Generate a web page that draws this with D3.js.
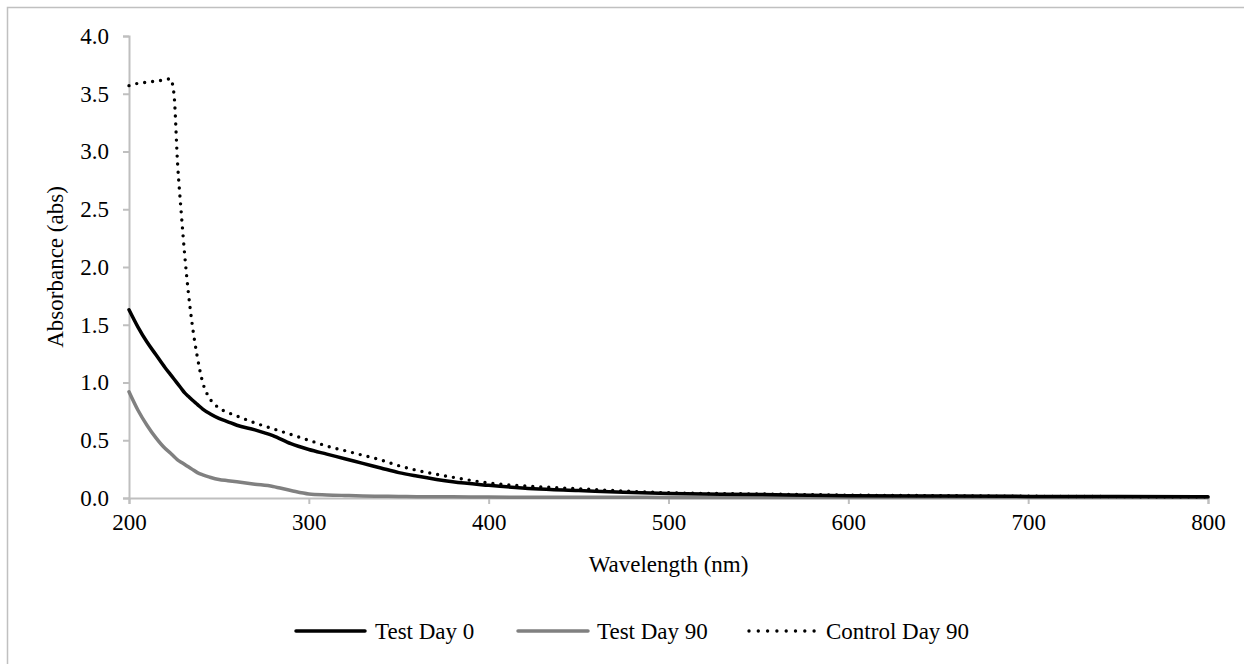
<!DOCTYPE html>
<html>
<head>
<meta charset="utf-8">
<script src="https://cdn.jsdelivr.net/npm/d3@7"></script>
<style>
  html, body { margin: 0; padding: 0; background: #fff; }
  svg { display: block; }
</style>
</head>
<body>
<svg id="chart" width="1244" height="664" font-family="Liberation Serif" font-size="23"></svg>
<script>
// ---- Data ----
const wavelengths = [200, 205, 210, 215, 220, 223, 225, 227, 229, 231, 233, 235, 238, 241, 245, 250, 255, 260, 270, 280, 290, 300, 310, 320, 330, 340, 350, 360, 380, 400, 425, 450, 475, 500, 550, 600, 650, 700, 750, 800];
const testDay0 = [1.63, 1.48, 1.35, 1.24, 1.13, 1.07, 1.03, 0.99, 0.95, 0.91, 0.88, 0.85, 0.81, 0.77, 0.73, 0.69, 0.66, 0.63, 0.59, 0.54, 0.47, 0.42, 0.38, 0.34, 0.30, 0.26, 0.22, 0.19, 0.14, 0.11, 0.08, 0.065, 0.05, 0.04, 0.03, 0.02, 0.017, 0.014, 0.012, 0.01];
const testDay90 = [0.92, 0.76, 0.63, 0.52, 0.43, 0.39, 0.36, 0.33, 0.31, 0.29, 0.27, 0.25, 0.22, 0.20, 0.18, 0.16, 0.15, 0.14, 0.12, 0.10, 0.065, 0.035, 0.027, 0.022, 0.018, 0.015, 0.013, 0.011, 0.010, 0.008, 0.007, 0.006, 0.006, 0.005, 0.005, 0.005, 0.005, 0.004, 0.004, 0.004];
const controlDay90 = [3.57, 3.59, 3.60, 3.61, 3.62, 3.63, 3.50, 2.90, 2.48, 2.10, 1.78, 1.52, 1.22, 1.00, 0.86, 0.78, 0.74, 0.71, 0.65, 0.60, 0.55, 0.50, 0.45, 0.41, 0.37, 0.33, 0.28, 0.24, 0.18, 0.13, 0.10, 0.08, 0.06, 0.045, 0.035, 0.025, 0.02, 0.015, 0.012, 0.01];
const seriesNames = ["Test Day 0", "Test Day 90", "Control Day 90"];
const xTicks = [200, 300, 400, 500, 600, 700, 800];
const yTicks = [0, 0.5, 1.0, 1.5, 2.0, 2.5, 3.0, 3.5, 4.0];
const xTitle = "Wavelength (nm)";
const yTitle = "Absorbance (abs)";

// ---- Layout ----
const svg = d3.select("#chart");
const W = 1244, H = 664;
const plot = { left: 129, right: 1208, top: 36, bottom: 498 };
const fontSize = 23;
const FONT = "Liberation Serif";
const axisColor = "#bfbfbf";

function serifText(sel) {
  return sel.attr("font-family", FONT).attr("font-size", fontSize).attr("fill", "#000");
}

// outer border
svg.append("rect")
  .attr("x", 7.5).attr("y", 7.5)
  .attr("width", W).attr("height", H)
  .attr("fill", "none").attr("stroke", "#c0c0c0").attr("stroke-width", 1.5);

const x = d3.scaleLinear().domain([200, 800]).range([plot.left, plot.right]);
const y = d3.scaleLinear().domain([0, 4]).range([plot.bottom, plot.top]);

// axes
const xAxis = svg.append("g")
  .attr("transform", `translate(0,${plot.bottom})`)
  .call(d3.axisBottom(x).tickValues(xTicks).tickFormat(d3.format("d")).tickSize(6).tickPadding(10));
const yAxis = svg.append("g")
  .attr("transform", `translate(${plot.left},0)`)
  .call(d3.axisLeft(y).tickValues(yTicks).tickFormat(d3.format(".1f")).tickSize(6).tickPadding(14));

[xAxis, yAxis].forEach(g => {
  g.attr("font-family", FONT).attr("font-size", fontSize);
  g.select(".domain").attr("stroke", axisColor).attr("stroke-width", 2);
  g.selectAll(".tick line").attr("stroke", axisColor).attr("stroke-width", 2);
  serifText(g.selectAll(".tick text"));
});

// axis titles
serifText(svg.append("text"))
  .attr("x", (plot.left + plot.right) / 2).attr("y", 572)
  .attr("text-anchor", "middle")
  .text(xTitle);
serifText(svg.append("text"))
  .attr("transform", `translate(63,${(plot.top + plot.bottom) / 2}) rotate(-90)`)
  .attr("text-anchor", "middle")
  .text(yTitle);

// series
const styles = [
  { color: "#000000", width: 3.5, dash: null },
  { color: "#808080", width: 3.5, dash: null },
  { color: "#000000", width: 3.4, dash: "0 8" }
];
const seriesValues = [testDay0, testDay90, controlDay90];

const line = d3.line()
  .x(d => x(d[0]))
  .y(d => y(d[1]))
  .curve(d3.curveMonotoneX);

const drawOrder = [1, 0, 2];
drawOrder.forEach(i => {
  const pts = wavelengths.map((w, k) => [w, seriesValues[i][k]]);
  const p = svg.append("path")
    .datum(pts)
    .attr("fill", "none")
    .attr("stroke", styles[i].color)
    .attr("stroke-width", styles[i].width)
    .attr("stroke-linejoin", "round")
    .attr("stroke-linecap", "round")
    .attr("d", line);
  if (styles[i].dash) p.attr("stroke-dasharray", styles[i].dash);
});

// legend
const legendY = 631;
const legendItems = [
  { x0: 296, x1: 365, tx: 375 },
  { x0: 518, x1: 588, tx: 597 },
  { x0: 749, x1: 822, tx: 826 }
];
legendItems.forEach((it, i) => {
  const l = svg.append("line")
    .attr("x1", it.x0).attr("x2", it.x1)
    .attr("y1", legendY).attr("y2", legendY)
    .attr("stroke", styles[i].color)
    .attr("stroke-width", styles[i].width)
    .attr("stroke-linecap", "round");
  if (styles[i].dash) l.attr("stroke-dasharray", "0 9.3");
  serifText(svg.append("text"))
    .attr("x", it.tx).attr("y", legendY + 8)
    .text(seriesNames[i]);
});
</script>
</body>
</html>
